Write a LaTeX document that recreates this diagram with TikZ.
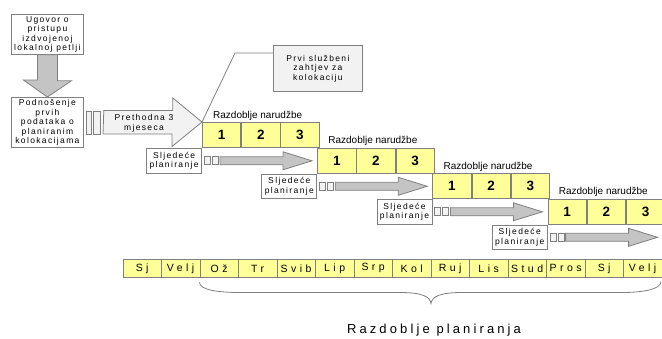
\documentclass[tikz,border=0pt]{standalone}
\usepackage{fontspec}
\setmainfont{Liberation Sans}
\newfontfamily\lsS[LetterSpace=16]{Liberation Sans}
\newfontfamily\lsM[LetterSpace=33]{Liberation Sans}
\newfontfamily\lsB[LetterSpace=24]{Liberation Sans}
\usetikzlibrary{calc}
\definecolor{bord}{HTML}{808080}
\definecolor{yel}{HTML}{FFFF99}
\definecolor{arrg}{HTML}{C4C4C4}
\definecolor{lgr}{HTML}{F2F2F2}
\tikzset{
  box/.style={draw=bord, line width=0.8pt, fill=white, inner sep=0pt, anchor=north west, align=center, font=\lsS\fontsize{8.5}{9.5}\selectfont},
  grbox/.style={box, fill=lgr},
  smallr/.style={draw=bord, line width=0.8pt, fill=lgr, inner sep=0pt, anchor=north west},
  cell/.style={draw=bord, line width=0.8pt, fill=yel, inner sep=0pt, anchor=north west, minimum width=38.4pt, minimum height=25pt, font=\bfseries\fontsize{13.5}{14}\selectfont},
  month/.style={draw=bord, line width=0.8pt, fill=yel, inner sep=0pt, anchor=north west, minimum width=38.5pt, minimum height=18pt, font=\lsM\fontsize{10.5}{11}\selectfont},
  plab/.style={anchor=west, inner sep=0pt, font=\fontsize{10}{11}\selectfont},
  garrow/.style={draw=bord, line width=0.8pt, fill=arrg},
  larrow/.style={draw=bord, line width=0.8pt, fill=lgr},
}
\begin{document}
\begin{tikzpicture}[x=1pt,y=-1pt]
\useasboundingbox (0,0) rectangle (662,338);
% left column
\node[box, minimum width=72pt, minimum height=40pt] (ugovor) at (11,14) {Ugovor o\\pristupu\\izdvojenoj\\lokalnoj petlji};
\node[box, minimum width=72pt, minimum height=50pt] (podn) at (11,97) {Podnošenje\\prvih\\podataka o\\planiranim\\kolokacijama};
\draw[garrow] (ugovor.south) ++(-10,0) -- ++(20,0) -- ++(0,26) -- ++(14,0) -- (podn.north) -- ++(-24,-17) -- ++(14,0) -- cycle;
\node[smallr, minimum width=5pt, minimum height=23pt] (r1) at (86,110.5) {};
\node[smallr, minimum width=7pt, minimum height=23pt] (r2) at (93,110.5) {};
% period boxes
\foreach \k in {0,1,2,3}{
  \pgfmathsetmacro{\L}{202+115.2*\k}
  \pgfmathsetmacro{\T}{122+25.5*\k}
  \node[cell] (p\k c1) at (\L,\T) {1};
  \node[cell] (p\k c2) at (p\k c1.north east) {2};
  \node[cell] (p\k c3) at (p\k c2.north east) {3};
  \node[plab] (lab\k) at ($(p\k c1.north west)+(11,-6.5)$) {Razdoblje narudžbe};
  \node[box, minimum width=55pt, minimum height=24.5pt, anchor=north east] (s\k) at ($(p\k c1.south west)+(0,0.5)$) {Sljedeće\\planiranje};
  \coordinate (a\k) at ($(p\k c1.south west)+(0,13)$);
  \node[smallr, minimum width=6pt, minimum height=8pt, anchor=west] (q\k a) at ($(a\k)+(2,0)$) {};
  \node[smallr, minimum width=6pt, minimum height=8pt, anchor=west] (q\k b) at ($(a\k)+(10,0)$) {};
  \draw[garrow] ($(a\k)+(18,-4)$) -- ++(63,0) -- ++(0,-5) -- ($(a\k)+(110,0)$) -- ($(a\k)+(81,9)$) -- ++(0,-5) -- ++(-63,0) -- cycle;
}
% big arrow
\draw[larrow] ($(r2.north east)+(3,0)$) -- ++(69,0) -- ++(0,-12.5) -- (p0c1.north west) -- ++(-30,24.5) -- ++(0,-12.5) -- ++(-69,0) -- cycle;
\node[inner sep=0pt, align=center, font=\lsS\fontsize{8.5}{10}\selectfont] (prev) at (144,123) {Prethodna 3\\mjeseca};
% callout
\node[grbox, minimum width=89pt, minimum height=46pt] (call) at (273,45) {Prvi službeni\\zahtjev za\\kolokaciju};
\draw[draw=bord, line width=0.8pt] ($(call.north west)+(0,8)$) -- (235,53) -- (p0c1.north west);
% months
\foreach \m [count=\i from 0] in {Sj,Velj,Ož,Tr,Svib,Lip,Srp,Kol,Ruj,Lis,Stud,Pros,Sj,Velj}{
  \node[month] (m\i) at (122.5+38.5*\i,259) {\m};
}
% brace
\draw[draw=bord, line width=0.8pt] (m2.south west) ++(0,4.5) .. controls +(0,8) and +(-20,0) .. (240,292.5) -- (400,292.5) .. controls +(22,0) and +(-1,-7) .. (431,303.5) coordinate (tip) .. controls +(1,-7) and +(-22,0) .. (462,292.5) -- (622,292.5) .. controls +(20,0) and +(0,8) .. (661,281.5);
\node[inner sep=0pt, font=\lsB\fontsize{13}{14}\selectfont] (plan) at (434,330) {Razdoblje planiranja};
\end{tikzpicture}
\end{document}
